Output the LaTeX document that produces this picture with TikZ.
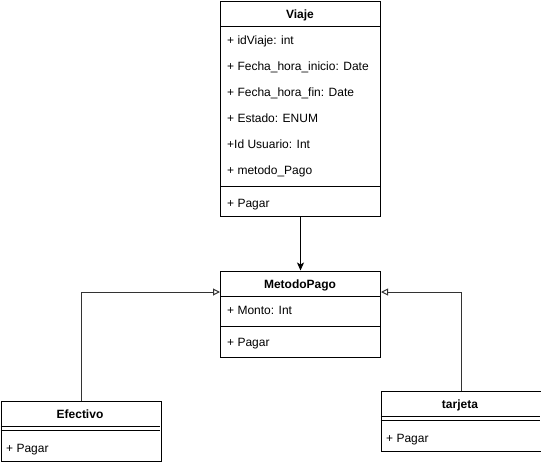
\documentclass[tikz,border=0pt]{standalone}
\usepackage{fontspec}
\setmainfont{Liberation Sans}
\usetikzlibrary{arrows.meta}

\tikzset{
  classbox/.style={draw, line width=1pt, inner sep=0pt, anchor=north west, minimum width=160pt},
  sepline/.style={line width=1pt},
  classname/.style={anchor=base, inner sep=0pt, font=\fontsize{12}{14}\selectfont\bfseries},
  member/.style={anchor=base west, inner sep=0pt, font=\fontsize{12}{14}\selectfont},
  assoc/.style={line width=1pt, -{Stealth[length=8pt,width=7pt,inset=2pt]}},
  inherit/.style={line width=1pt, black!80, -{Triangle[open,length=7pt,width=7pt]}}
}

\begin{document}
\begin{tikzpicture}[x=1pt,y=-1pt]
        \useasboundingbox (0,0) rectangle (541,464);

        % Viaje
        \node[classbox, minimum height=215pt] (viaje) at (220,0.5) {};
        \draw[sepline] (220,26) -- (380,26);
        \draw[sepline] (220,186) -- (380,186);
        \node[classname] (viajeName) at (300,18) {Viaje};
        \node[member] (idViaje) at (227,44.5) {+ idViaje: int};
        \node[member] (fechaInicio) at (227,70.5) {+ Fecha\_hora\_inicio: Date};
        \node[member] (fechaFin) at (227,96.5) {+ Fecha\_hora\_fin: Date};
        \node[member] (estado) at (227,122.5) {+ Estado: ENUM};
        \node[member] (idUsuario) at (227,148.5) {+Id Usuario: Int};
        \node[member] (metodoAttr) at (227,174.5) {+ metodo\_Pago};
        \node[member] (viajePagar) at (227,207.5) {+ Pagar};

        % MetodoPago
        \node[classbox, minimum height=86pt] (metodo) at (220,270.5) {};
        \draw[sepline] (220,296.5) -- (380,296.5);
        \draw[sepline] (220,326.5) -- (380,326.5);
        \node[classname] (metodoName) at (300,288.5) {MetodoPago};
        \node[member] (monto) at (227,314.5) {+ Monto: Int};
        \node[member] (metodoPagar) at (227,346) {+ Pagar};

        % Efectivo
        \node[classbox, minimum height=60pt] (efectivo) at (0.5,400.5) {};
        \draw[sepline] (0.5,426) -- (160,426);
        \draw[sepline] (0.5,430) -- (160,430);
        \node[classname] (efectivoName) at (80,418.5) {Efectivo};
        \node[member] (efectivoPagar) at (6,452.5) {+ Pagar};

        % tarjeta
        \node[classbox, minimum height=60pt] (tarjeta) at (380.5,390.5) {};
        \draw[sepline] (380.5,416) -- (540,416);
        \draw[sepline] (380.5,420) -- (540,420);
        \node[classname] (tarjetaName) at (460,408.5) {tarjeta};
        \node[member] (tarjetaPagar) at (386,442.5) {+ Pagar};

        % connectors
        \draw[assoc] (viaje.south) -- (metodo.north);
        \draw[inherit] (efectivo.north) |- ([yshift=-21.5pt]metodo.north west);
        \draw[inherit] (tarjeta.north) |- ([yshift=-21.5pt]metodo.north east);
\end{tikzpicture}
\end{document}
